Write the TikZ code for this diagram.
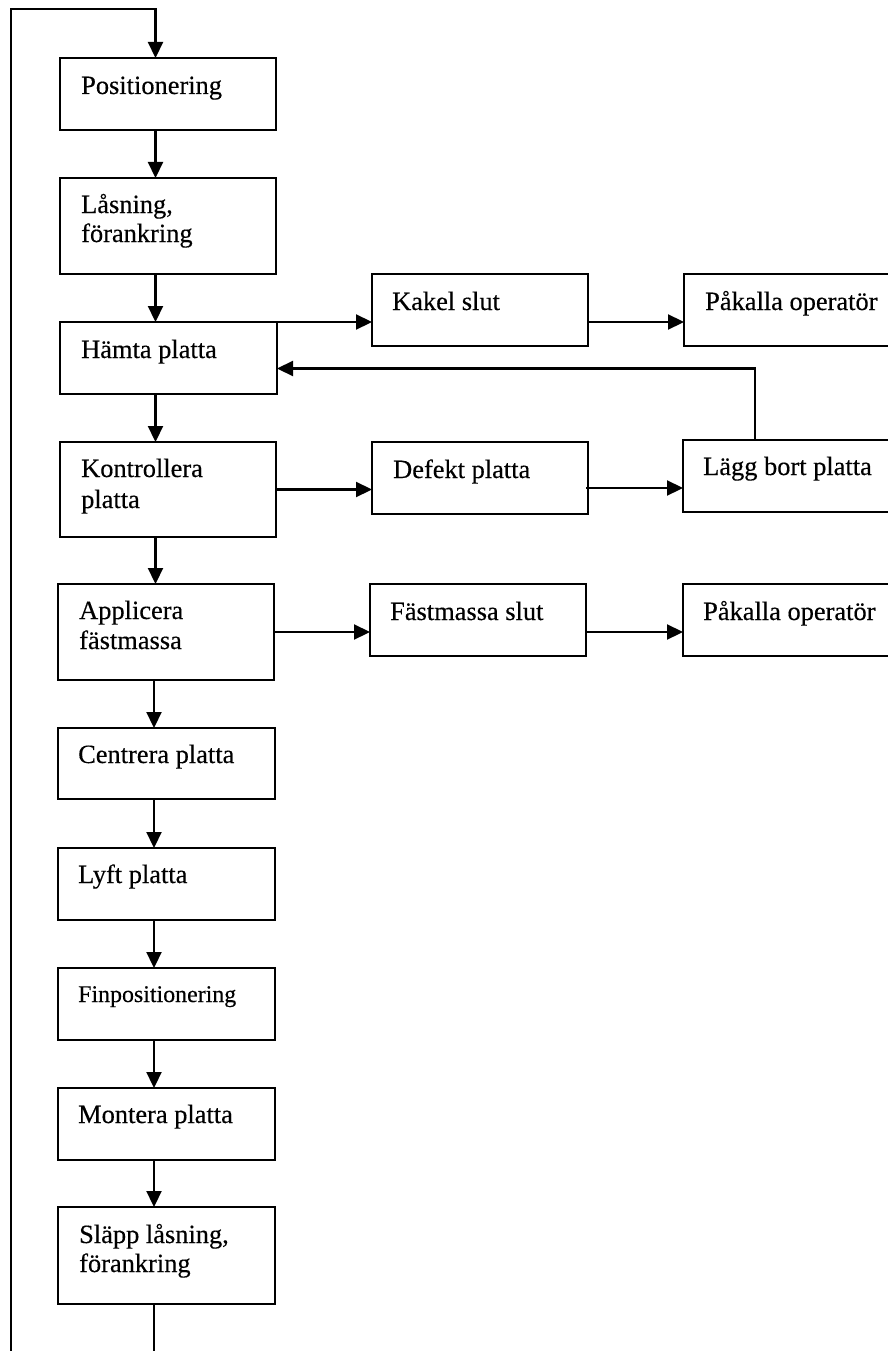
\documentclass[tikz,border=0pt]{standalone}
\usepackage{fontspec}
\setmainfont{Liberation Serif}[FakeBold=0.35]
\usetikzlibrary{arrows.meta}
\begin{document}
\begin{tikzpicture}[x=1pt,y=-1pt,
  box/.style={draw, line width=2.2pt, rectangle, inner sep=0pt, outer sep=0pt, anchor=north west},
  lbl/.style={anchor=base west, inner sep=0pt, font=\fontsize{26.4}{29}\selectfont},
  small/.style={lbl, font=\fontsize{23.9}{29}\selectfont},
  con/.style={line width=2.2pt},
  arr/.style={con, -{Triangle[length=16pt,width=15pt]}}]
\useasboundingbox (0,0) rectangle (888,1351);
% main column boxes
\node[box, minimum width=216pt, minimum height=72pt] (pos)    at (60,58)   {};
\node[box, minimum width=216pt, minimum height=96pt] (las)    at (60,178)  {};
\node[box, minimum width=217pt, minimum height=72pt] (hamta)  at (60,322)  {};
\node[box, minimum width=216pt, minimum height=95pt] (kontr)  at (60,442)  {};
\node[box, minimum width=216pt, minimum height=96pt] (appl)   at (58,584)  {};
\node[box, minimum width=217pt, minimum height=71pt] (centr)  at (58,728)  {};
\node[box, minimum width=217pt, minimum height=72pt] (lyft)   at (58,848)  {};
\node[box, minimum width=217pt, minimum height=72pt] (finp)   at (58,968)  {};
\node[box, minimum width=217pt, minimum height=72pt] (mont)   at (58,1088) {};
\node[box, minimum width=217pt, minimum height=97pt] (slapp)  at (58,1207) {};
% side boxes
\node[box, minimum width=216pt, minimum height=72pt] (kakel)  at (372,274) {};
\node[box, minimum width=230pt, minimum height=72pt] (pak1)   at (684,274) {};
\node[box, minimum width=216pt, minimum height=72pt] (defekt) at (372,442) {};
\node[box, minimum width=230pt, minimum height=72pt] (lagg)   at (683,440) {};
\node[box, minimum width=216pt, minimum height=72pt] (fast)   at (370,584) {};
\node[box, minimum width=230pt, minimum height=72pt] (pak2)   at (683,584) {};
% labels
\node[lbl] (pos-t)    at ([shift={(21,36)}]pos.north west)   {Positionering};
\node[lbl] (las-t)    at ([shift={(21,35)}]las.north west)   {Låsning,};
\node[lbl] (las-t2)   at ([shift={(21,64)}]las.north west)   {förankring};
\node[lbl] (hamta-t)  at ([shift={(21,36)}]hamta.north west) {Hämta platta};
\node[lbl] (kontr-t)  at ([shift={(21,35)}]kontr.north west) {Kontrollera};
\node[lbl] (kontr-t2) at ([shift={(21,66)}]kontr.north west) {platta};
\node[lbl] (appl-t)   at ([shift={(21,35)}]appl.north west)  {Applicera};
\node[lbl] (appl-t2)  at ([shift={(21,65)}]appl.north west)  {fästmassa};
\node[lbl] (centr-t)  at ([shift={(20,35)}]centr.north west) {Centrera platta};
\node[lbl] (lyft-t)   at ([shift={(20,35)}]lyft.north west)  {Lyft platta};
\node[small] (finp-t) at ([shift={(20,34)}]finp.north west)  {Finpositionering};
\node[lbl] (mont-t)   at ([shift={(20,35)}]mont.north west)  {Montera platta};
\node[lbl] (slapp-t)  at ([shift={(21,36)}]slapp.north west) {Släpp låsning,};
\node[lbl] (slapp-t2) at ([shift={(21,65)}]slapp.north west) {förankring};
\node[lbl] (kakel-t)  at ([shift={(20,36)}]kakel.north west) {Kakel slut};
\node[lbl] (pak1-t)   at ([shift={(21,36)}]pak1.north west)  {Påkalla operatör};
\node[lbl] (defekt-t) at ([shift={(21,36)}]defekt.north west){Defekt platta};
\node[lbl] (lagg-t)   at ([shift={(20,35)}]lagg.north west)  {Lägg bort platta};
\node[lbl] (fast-t)   at ([shift={(20,36)}]fast.north west)  {Fästmassa slut};
\node[lbl] (pak2-t)   at ([shift={(20,36)}]pak2.north west)  {Påkalla operatör};
% helper coordinates
\coordinate (c1) at (155.5,0);
\coordinate (c2) at (154,0);
\coordinate (lx) at (11,9);
\coordinate (bot) at (0,1370);
\coordinate (r1) at (0,322);
\coordinate (r2) at (0,489.5);
\coordinate (r3) at (0,488);
\coordinate (r4) at (0,632);
\coordinate (ret) at (755,368.5);
% main flow
\draw[arr] (pos.south -| c1)   -- (las.north -| c1);
\draw[arr] (las.south -| c1)   -- (hamta.north -| c1);
\draw[arr] (hamta.south -| c1) -- (kontr.north -| c1);
\draw[arr] (kontr.south -| c1) -- (appl.north -| c1);
\draw[arr] (appl.south -| c2)  -- (centr.north -| c2);
\draw[arr] (centr.south -| c2) -- (lyft.north -| c2);
\draw[arr] (lyft.south -| c2)  -- (finp.north -| c2);
\draw[arr] (finp.south -| c2)  -- (mont.north -| c2);
\draw[arr] (mont.south -| c2)  -- (slapp.north -| c2);
% loop back
\draw[arr] (slapp.south -| c2) -- (c2 |- bot) -- (lx |- bot) -- (lx) -- (c1 |- lx) -- (pos.north -| c1);
% side branches
\draw[arr] (hamta.north east) -- (kakel.west |- r1);
\draw[arr] (kakel.east |- r1) -- (pak1.west |- r1);
\draw[arr] (kontr.east |- r2) -- (defekt.west |- r2);
\draw[arr] ([xshift=-2pt]defekt.east |- r3) -- (lagg.west |- r3);
\draw[arr] (lagg.north -| ret) -- (ret) -- (hamta.east |- ret);
\draw[arr] (appl.east |- r4) -- (fast.west |- r4);
\draw[arr] (fast.east |- r4) -- (pak2.west |- r4);
\end{tikzpicture}
\end{document}
